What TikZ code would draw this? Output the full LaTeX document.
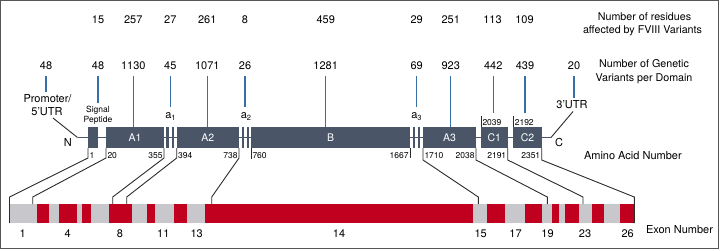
\documentclass[tikz,border=0pt]{standalone}
\usepackage{fontspec}
\setmainfont{TeX Gyre Heros}
\definecolor{slate}{HTML}{4A5568}
\definecolor{lineblue}{HTML}{3570A8}
\definecolor{exred}{HTML}{C1001F}
\definecolor{exgray}{HTML}{C8C7CC}
\definecolor{framegray}{HTML}{555555}
\definecolor{conncol}{HTML}{2B2B2B}
\newcommand\myfs[1]{\fontsize{#1}{#1}\selectfont}
\begin{document}
\begin{tikzpicture}[x=1pt,y=-1pt,
  txt/.style={inner sep=0pt,outer sep=0pt,anchor=base,font=\myfs{11}},
  lbl/.style={inner sep=0pt,outer sep=0pt,anchor=base,font=\myfs{10.7}},
  small/.style={inner sep=0pt,outer sep=0pt,font=\myfs{8.5}},
  dom/.style={fill=slate,inner sep=0pt,outer sep=0pt,minimum height=21pt,text=white,font=\myfs{10.5}},
  exbar/.style={fill=exgray,inner sep=0pt,outer sep=0pt,minimum height=19pt,minimum width=624.8pt},
  bl/.style={draw=lineblue,line width=1.2pt},
  conn/.style={draw=conncol,line width=0.9pt}]
\useasboundingbox (0,0) rectangle (721,250);
\draw[framegray,line width=1.3pt] (0.65,0.65) rectangle (718.3,248.3);

% right-hand labels
\node[lbl] (res1) at (644.5,20.7) {Number of residues};
\node[lbl] (res2) at (642.5,33.3) {affected by FVIII Variants};
\node[lbl] (gen1) at (644,67.7) {Number of Genetic};
\node[lbl] (gen2) at (644,81) {Variants per Domain};
\node[txt,anchor=base west] (aan) at (584,159) {Amino Acid Number};
\node[txt,anchor=base west] (exn) at (646,233.5) {Exon Number};

% residue numbers
\foreach \x/\t/\n in {98/15/rSP,133.3/257/rA1,170.3/27/ra1,207.3/261/rA2,245/8/ra2,325.7/459/rB,416.7/29/ra3,450.7/251/rA3,492.5/113/rC1,524.5/109/rC2}
  \node[txt] (\n) at (\x,23.5) {\t};

% genetic variant numbers
\foreach \x/\t/\n in {46/48/gP,98/48/gSP,133.3/1130/gA1,170.3/45/ga1,207.3/1071/gA2,245/26/ga2,325.7/1281/gB,416.7/69/ga3,450.7/923/gA3,493.3/442/gC1,525/439/gC2,574/20/gU}
  \node[txt] (\n) at (\x,69.5) {\t};

% domain bar
\coordinate (Nend) at (77.5,137.5);
\coordinate (Cend) at (551,137.5);
\draw[slate,line width=1.5pt] (Nend) -- (Cend);
\node[dom,minimum width=10pt] (SP) at (93,137.5) {};
\node[dom,minimum width=58pt] (A1) at (135,137.5) {A1};
\node[dom,minimum width=2.5pt] (a1a) at (167.25,137.5) {};
\node[dom,minimum width=2.5pt] (a1b) at (172.75,137.5) {};
\node[dom,minimum width=62.3pt] (A2) at (207.85,137.5) {A2};
\node[dom,minimum width=2.5pt] (a2a) at (242.75,137.5) {};
\node[dom,minimum width=2.5pt] (a2b) at (247.75,137.5) {};
\node[dom,minimum width=159pt] (B) at (330.5,137.5) {B};
\node[dom,minimum width=2.5pt] (a3a) at (413.75,137.5) {};
\node[dom,minimum width=2.5pt] (a3b) at (418.75,137.5) {};
\node[dom,minimum width=53pt] (A3) at (449.5,137.5) {A3};
\node[dom,minimum width=26.7pt] (C1) at (494.35,137.5) {C1};
\node[dom,minimum width=28.4pt] (C2) at (527.5,137.5) {C2};

\node[txt] (N) at (67.8,146) {N};
\node[txt] (C) at (559,146) {C};

% labels above bar
\node[txt] (prom1) at (47.5,102.5) {Promoter/};
\node[txt] (prom2) at (47,115) {5'UTR};
\node[small,anchor=base] (sig1) at (98,112) {Signal};
\node[small,anchor=base] (sig2) at (98,122.5) {Peptide};
\node[txt] (la1) at (170.5,118.3) {a\raisebox{-2.2pt}{\myfs{7.5}1}};
\node[txt] (la2) at (246,118.3) {a\raisebox{-2.2pt}{\myfs{7.5}2}};
\node[txt] (la3) at (416.5,118.3) {a\raisebox{-2.2pt}{\myfs{7.5}3}};
\node[txt] (utr3) at (572,108.3) {3'UTR};

\coordinate (promtail) at (53,118);
\coordinate (utrtail) at (573,111.5);
\draw[conn] (promtail) -- (Nend);
\draw[conn] (utrtail) -- (Cend);

% blue lines
\coordinate (eP) at (46,91.7);
\coordinate (eSP) at (98,102.7);
\coordinate (ea1) at (170.3,106.7);
\coordinate (ea2) at (245,106.7);
\coordinate (ea3) at (416.7,106.7);
\coordinate (eC1) at (493.3,112.7);
\coordinate (eC2) at (525,112.7);
\coordinate (eU) at (574,97.7);
\foreach \g/\e in {gP/eP,gSP/eSP,ga1/ea1,ga2/ea2,ga3/ea3,gC1/eC1,gC2/eC2,gU/eU}
  \draw[bl] ([yshift=-6.5pt]\g.south) -- (\e);
\foreach \g/\b in {gA1/A1,gA2/A2,gB/B,gA3/A3}
  \draw[bl] ([yshift=-6.5pt]\g.south) -- (\g.south |- \b.north);

% amino acid numbers
\node[small,anchor=base west] (n1) at (89.5,158.3) {1};
\node[small,anchor=base west] (n20) at (107.5,158.3) {20};
\node[small,anchor=base east] (n355) at (162.5,158.3) {355};
\node[small,anchor=base west] (n394) at (178.2,158.3) {394};
\node[small,anchor=base east] (n738) at (237.5,158.3) {738};
\node[small,anchor=base west] (n760) at (252.5,158.3) {760};
\node[small,anchor=base east] (n1667) at (408.5,158.3) {1667};
\node[small,anchor=base west] (n1710) at (424.5,158.3) {1710};
\node[small,anchor=base east] (n2038) at (474.5,158.3) {2038};
\node[small,anchor=base east] (n2191) at (506.2,158.3) {2191};
\node[small,anchor=base east] (n2351) at (540.2,158.3) {2351};
\node[small,anchor=base west] (n2039) at (482.5,125.3) {2039};
\node[small,anchor=base west] (n2192) at (514.8,125.3) {2192};

\draw[conn] (B.south west) -- ++(0,11);
\draw[conn] (B.south east) -- ++(0,10);
\draw[conn] (C1.north west) -- ++(0,-11);
\draw[conn] (C2.north west) -- ++(0,-11);

% exon bar
\node[exbar] (ex) at (321.9,213.5) {};
\foreach \a/\b in {36.7/49.3,58.7/77,82/91,109/131.7,147.3/155.3,174.3/186.7,205/473.3,487.3/505,525.3/542.3,552.3/559,565.3/578.7,591.7/604.3,620.3/634.3}
  \fill[exred] (\a,204) rectangle (\b,223);

\coordinate (t20) at (32.7,204);
\coordinate (t355) at (112.7,204);
\coordinate (t394) at (126.7,204);
\coordinate (t738) at (211.7,204);
\coordinate (t1710) at (478.3,204);
\coordinate (t2038) at (547.3,204);
\coordinate (t2191) at (583,204);

\draw[conn] (SP.south west) -- ++(0,10) -- ([yshift=7pt]ex.north west) -- (ex.south west);
\draw[conn] (A1.south west) -- ++(0,10) -- ([yshift=7pt]t20) -- (t20);
\draw[conn] (A1.south east) -- ++(0,10) -- ([yshift=7pt]t355) -- (t355);
\draw[conn] (A2.south west) -- ++(0,10) -- ([yshift=7pt]t394) -- (t394);
\draw[conn] (A2.south east) -- ++(0,10) -- ([yshift=7pt]t738) -- (t738);
\draw[conn] (A3.south west) -- ++(0,12) -- ([yshift=7pt]t1710) -- (t1710);
\draw[conn] (A3.south east) -- ++(0,12) -- ([yshift=7pt]t2038) -- (t2038);
\draw[conn] (C1.south east) -- ++(0,12) -- ([yshift=7pt]t2191) -- (t2191);
\draw[conn] (C2.south east) -- ++(0,12) -- ([yshift=7pt]ex.north east) -- (ex.south east);

% exon numbers
\foreach \x/\t/\n in {22.7/1/x1,67.7/4/x4,120/8/x8,163.3/11/x11,196.7/13/x13,339/14/x14,480.7/15/x15,515.5/17/x17,547.5/19/x19,585/23/x23,627.7/26/x26}
  \node[txt] (\n) at (\x,237) {\t};
\end{tikzpicture}
\end{document}
